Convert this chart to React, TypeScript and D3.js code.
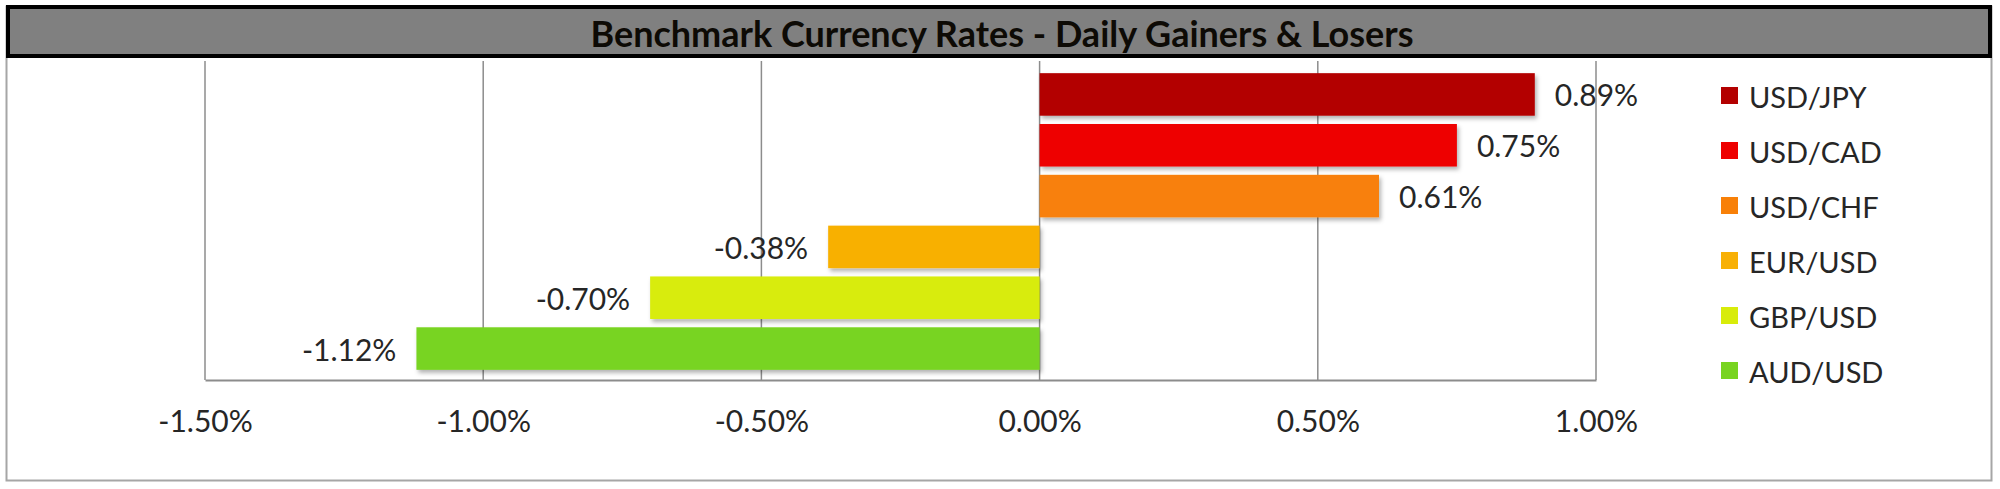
import React, { useEffect, useRef } from "react";
import * as d3 from "d3";

const pairs = ["USD/JPY", "USD/CAD", "USD/CHF", "EUR/USD", "GBP/USD", "AUD/USD"];
const changes = [0.89, 0.75, 0.61, -0.38, -0.7, -1.12];
const pairColors = ["#b30000", "#ee0000", "#f88008", "#f8b005", "#d8ec0a", "#78d420"];
const xTicks = [-1.5, -1.0, -0.5, 0, 0.5, 1.0];
const title = "Benchmark Currency Rates - Daily Gainers & Losers";

const W = 2000;
const H = 489;
const FONT = "Lato, 'Open Sans', sans-serif";

const App: React.FC = () => {
  const svgRef = useRef<SVGSVGElement>(null);

  useEffect(() => {
    if (!svgRef.current) return;
    const svg = d3.select(svgRef.current);
    svg.selectAll("*").remove();

    const plot = { left: 205, right: 1596, top: 63, bottom: 380 };

    // drop shadow for bars
    const defs = svg.append("defs");
    defs
      .append("filter")
      .attr("id", "barShadow")
      .attr("x", "-5%")
      .attr("y", "-20%")
      .attr("width", "110%")
      .attr("height", "150%")
      .append("feDropShadow")
      .attr("dx", 2)
      .attr("dy", 3)
      .attr("stdDeviation", 2)
      .attr("flood-color", "#000")
      .attr("flood-opacity", 0.3);

    // outer frame
    svg
      .append("rect")
      .attr("x", 6.5)
      .attr("y", 6.5)
      .attr("width", 1985)
      .attr("height", 474)
      .attr("fill", "#fff")
      .attr("stroke", "#a6a6a6")
      .attr("stroke-width", 2);

    // title bar
    svg
      .append("rect")
      .attr("x", 8)
      .attr("y", 7)
      .attr("width", 1982)
      .attr("height", 49)
      .attr("fill", "#808080")
      .attr("stroke", "#000")
      .attr("stroke-width", 4);

    svg
      .append("text")
      .attr("x", 1002)
      .attr("y", 33)
      .attr("text-anchor", "middle")
      .attr("dominant-baseline", "central")
      .attr("font-family", FONT)
      .attr("font-weight", "bold")
      .attr("font-size", 36)
      .attr("fill", "#0d0a05")
      .text(title);

    // scales
    const x = d3.scaleLinear().domain([-1.5, 1.0]).range([plot.left, plot.right]);
    const y = d3
      .scaleBand()
      .domain(pairs)
      .range([plot.top, plot.bottom])
      .paddingInner(0.163)
      .paddingOuter(0.2);

    // gridlines
    svg
      .append("g")
      .selectAll("line")
      .data(xTicks)
      .enter()
      .append("line")
      .attr("x1", (d) => x(d))
      .attr("x2", (d) => x(d))
      .attr("y1", plot.top - 2)
      .attr("y2", plot.bottom)
      .attr("stroke", "#8c8c8c")
      .attr("stroke-width", 1.5);

    // bottom axis
    const axis = svg
      .append("g")
      .attr("transform", `translate(0,${plot.bottom})`)
      .call(
        d3
          .axisBottom(x)
          .tickValues(xTicks)
          .tickSize(0)
          .tickPadding(31)
          .tickFormat((d) => (d as number).toFixed(2) + "%")
      );
    axis.select(".domain").attr("stroke", "#8c8c8c").attr("stroke-width", 2);
    axis
      .selectAll("text")
      .attr("font-family", FONT)
      .attr("font-size", 30)
      .attr("fill", "#262626");

    const rows = pairs.map((p, i) => ({ pair: p, value: changes[i], color: pairColors[i] }));

    // bars
    svg
      .append("g")
      .selectAll("rect")
      .data(rows)
      .enter()
      .append("rect")
      .attr("x", (d) => x(Math.min(0, d.value)))
      .attr("y", (d) => y(d.pair) || 0)
      .attr("width", (d) => Math.abs(x(d.value) - x(0)))
      .attr("height", y.bandwidth())
      .attr("fill", (d) => d.color)
      .attr("filter", "url(#barShadow)");

    // value labels
    svg
      .append("g")
      .selectAll("text")
      .data(rows)
      .enter()
      .append("text")
      .attr("x", (d) => (d.value >= 0 ? x(d.value) + 20 : x(d.value) - 20))
      .attr("y", (d) => (y(d.pair) || 0) + y.bandwidth() / 2)
      .attr("text-anchor", (d) => (d.value >= 0 ? "start" : "end"))
      .attr("dominant-baseline", "central")
      .attr("font-family", FONT)
      .attr("font-size", 30)
      .attr("fill", "#262626")
      .text((d) => d.value.toFixed(2) + "%");

    // legend
    const ly = d3.scalePoint().domain(pairs).range([96, 371]);
    const legend = svg
      .append("g")
      .selectAll("g")
      .data(rows)
      .enter()
      .append("g")
      .attr("transform", (d) => `translate(1721,${ly(d.pair)})`);
    legend
      .append("rect")
      .attr("x", 0)
      .attr("y", -9)
      .attr("width", 17)
      .attr("height", 17)
      .attr("fill", (d) => d.color);
    legend
      .append("text")
      .attr("x", 28)
      .attr("y", 0)
      .attr("dominant-baseline", "central")
      .attr("font-family", FONT)
      .attr("font-size", 29)
      .attr("fill", "#262626")
      .text((d) => d.pair);
  }, []);

  return (
    <svg
      ref={svgRef}
      width={W}
      height={H}
      style={{ position: "absolute", left: 0, top: 0, display: "block" }}
    ></svg>
  );
};

export default App;
